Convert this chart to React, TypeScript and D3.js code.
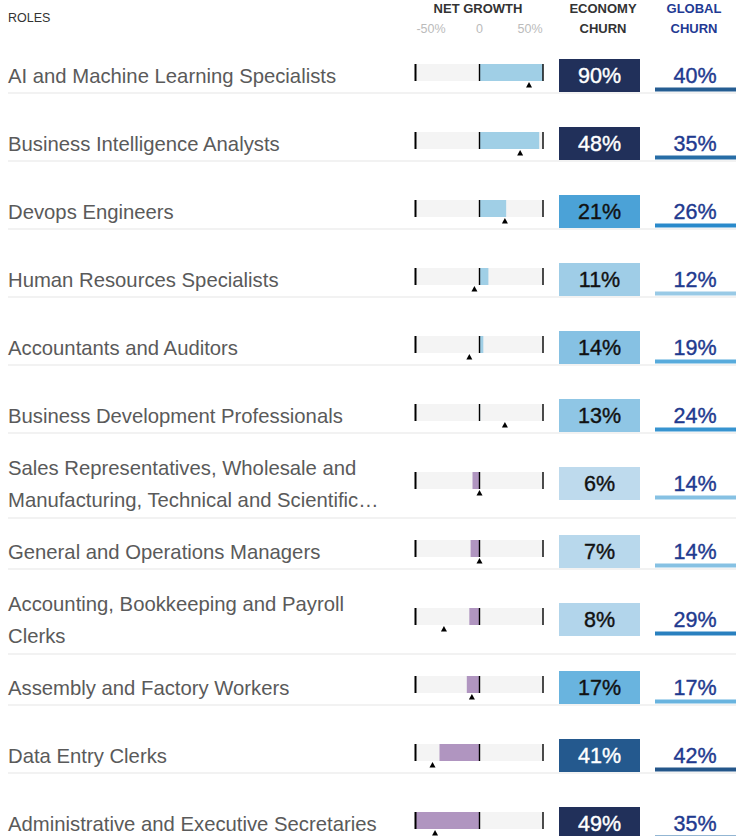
import React, { useRef, useEffect } from "react";
import * as d3 from "d3";

const roles = [
  ["AI and Machine Learning Specialists"],
  ["Business Intelligence Analysts"],
  ["Devops Engineers"],
  ["Human Resources Specialists"],
  ["Accountants and Auditors"],
  ["Business Development Professionals"],
  ["Sales Representatives, Wholesale and", "Manufacturing, Technical and Scientific…"],
  ["General and Operations Managers"],
  ["Accounting, Bookkeeping and Payroll", "Clerks"],
  ["Assembly and Factory Workers"],
  ["Data Entry Clerks"],
  ["Administrative and Executive Secretaries"],
];
const netGrowth = [50, 47, 21, 7, 3, 0.5, -5.5, -7, -8, -10, -31.5, -50];
const growthMarker = [39, 32, 20, -4, -8, 20, 0, 0, -28, -6, -37, -35];
const economyChurn = [90, 48, 21, 11, 14, 13, 6, 7, 8, 17, 41, 49];
const globalChurn = [40, 35, 26, 12, 19, 24, 14, 14, 29, 17, 42, 35];
const growthTicks = [-50, 0, 50];

const W = 736;
const H = 836;
const FONT = "'Helvetica Neue', Helvetica, 'Liberation Sans', Arial, sans-serif";

const App = () => {
  const ref = useRef<SVGSVGElement>(null);

  useEffect(() => {
    const svg = d3.select(ref.current);
    svg.selectAll("*").remove();

    const rowStep = 68;
    const top = 59; // top of first churn box
    const rowY = (i: number) => top + i * rowStep;

    const x = d3.scaleLinear().domain([-50, 50]).range([416, 543]).clamp(true);
    const churnColor = d3
      .scaleLinear<string>()
      .domain([5, 12, 18, 26, 42, 48])
      .range(["#c4ddee", "#99cae6", "#5fb0de", "#2a8acb", "#24568a", "#21305a"])
      .clamp(true);

    // header
    const head = svg.append("g").style("font-family", FONT);
    head.append("text").attr("x", 8).attr("y", 22).attr("fill", "#333")
      .style("font-size", "12.5px").text("ROLES");
    head.append("text").attr("x", 478).attr("y", 13).attr("text-anchor", "middle")
      .attr("fill", "#333").attr("font-weight", "bold").style("font-size", "13px").text("NET GROWTH");
    head.selectAll(".gtick").data(growthTicks).enter().append("text")
      .attr("x", (d) => x(d) + (d < 0 ? 15 : d > 0 ? -13 : 0))
      .attr("y", 33).attr("text-anchor", "middle").attr("fill", "#bbb")
      .style("font-size", "12.5px")
      .text((d) => (d === 0 ? "0" : `${d}%`));
    [["ECONOMY", 13], ["CHURN", 33]].forEach(([t, y]) =>
      head.append("text").attr("x", 603).attr("y", y).attr("text-anchor", "middle")
        .attr("fill", "#333").attr("font-weight", "bold").style("font-size", "13px").text(t as string));
    [["GLOBAL", 13], ["CHURN", 33]].forEach(([t, y]) =>
      head.append("text").attr("x", 694).attr("y", y).attr("text-anchor", "middle")
        .attr("fill", "#1f3a93").attr("font-weight", "bold").style("font-size", "13px").text(t as string));

    const rows = svg.selectAll(".row").data(roles).enter().append("g")
      .attr("class", "row")
      .attr("transform", (_, i) => `translate(0, ${rowY(i)})`);

    // separators (lower for two-line labels)
    rows.append("rect").attr("x", 8)
      .attr("y", (d) => (d.length > 1 ? 50 : 33))
      .attr("width", W - 8).attr("height", 2)
      .attr("fill", "#f2f2f2");

    // labels
    rows.each(function (lines) {
      const g = d3.select(this);
      const mid = 16.5;
      lines.forEach((t, j) => {
        const off = lines.length === 1 ? 0 : j === 0 ? -16 : 16;
        g.append("text").attr("x", 8).attr("y", mid + off + 7)
          .style("font-family", FONT).style("font-size", "20.3px").style("font-weight", 300)
          .attr("fill", "#5a5a5a").text(t);
      });
    });

    // net growth track
    rows.append("rect").attr("x", x(-50)).attr("y", 5).attr("width", x(50) - x(-50))
      .attr("height", 17).attr("fill", "#f4f4f4");
    rows.append("rect")
      .attr("x", (_, i) => Math.min(x(0), x(netGrowth[i])))
      .attr("y", 5)
      .attr("width", (_, i) => Math.abs(x(netGrowth[i]) - x(0)))
      .attr("height", 17)
      .attr("fill", (_, i) => (netGrowth[i] >= 0 ? "#a0cfe6" : "#b095c0"));
    rows.append("rect").attr("x", x(-50) - 1.5).attr("y", 5).attr("width", 2).attr("height", 17).attr("fill", "#000");
    rows.append("rect").attr("x", x(0) - 0.7).attr("y", 5).attr("width", 1.4).attr("height", 17).attr("fill", "#000");
    rows.append("rect").attr("x", x(50) - 0.7).attr("y", 5).attr("width", 1.4).attr("height", 17).attr("fill", "#000");
    rows.append("path")
      .attr("d", (_, i) => {
        const cx = x(growthMarker[i]);
        return `M${cx - 3},28.5 L${cx + 3},28.5 L${cx},23 Z`;
      })
      .attr("fill", "#000");

    // economy churn boxes
    rows.append("rect").attr("x", 559).attr("y", 0).attr("width", 81).attr("height", 33)
      .attr("fill", (_, i) => churnColor(economyChurn[i]));
    rows.append("text").attr("x", 599.5).attr("y", 24).attr("text-anchor", "middle")
      .style("font-family", FONT).style("font-size", "21.5px")
      .attr("fill", (_, i) => (economyChurn[i] > 30 ? "#fff" : "#111"))
      .attr("stroke", (_, i) => (economyChurn[i] > 30 ? "#fff" : "#111"))
      .attr("stroke-width", 0.4)
      .text((_, i) => `${economyChurn[i]}%`);

    // global churn
    rows.append("rect").attr("x", 655).attr("y", 28.5).attr("width", W - 655).attr("height", 4)
      .attr("fill", (_, i) => churnColor(globalChurn[i]));
    rows.append("text").attr("x", 695).attr("y", 24).attr("text-anchor", "middle")
      .style("font-family", FONT).style("font-size", "21.5px")
      .attr("fill", "#1f3a8f").attr("stroke", "#1f3a8f").attr("stroke-width", 0.4)
      .text((_, i) => `${globalChurn[i]}%`);
  }, []);

  return (
    <svg
      ref={ref}
      width={W}
      height={H}
      style={{ position: "absolute", left: 0, top: 0, overflow: "hidden" }}
    />
  );
};

export default App;
